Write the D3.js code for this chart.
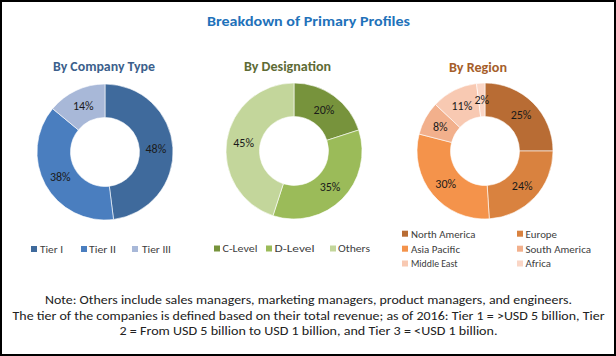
<!DOCTYPE html>
<html>
<head>
<meta charset="utf-8">
<script src="https://cdn.jsdelivr.net/npm/d3@7"></script>
<style>
  html, body { margin: 0; padding: 0; background: #fff; }
  svg { display: block; }
  text { font-family: Carlito, Calibri, Lato, "Open Sans", sans-serif; }
</style>
</head>
<body>
<svg id="chart" width="616" height="356"></svg>
<script>
// ---------- DATA ----------
const chartTitle = "Breakdown of Primary Profiles";

const companyTitle = "By Company Type";
const companyCategories = ["Tier I", "Tier II", "Tier III"];
const companyValues = [48, 38, 14];

const designationTitle = "By Designation";
const designationCategories = ["C-Level", "D-Level", "Others"];
const designationValues = [20, 35, 45];

const regionTitle = "By Region";
const regionCategories = ["North America", "Europe", "Asia Pacific", "South America", "Middle East", "Africa"];
const regionValues = [25, 24, 30, 8, 11, 2];

const noteLines = [
  "Note: Others include sales managers, marketing managers, product managers, and engineers.",
  "The tier of the companies is defined based on their total revenue; as of 2016: Tier 1 = >USD 5 billion, Tier",
  "2 = From USD 5 billion to USD 1 billion, and Tier 3 = <USD 1 billion."
];

// ---------- STYLE / LAYOUT ----------
const companyColors = ["#3F6A9C", "#4A7EBF", "#A8B8D8"];
const designationColors = ["#77933C", "#9BBB59", "#C3D69B"];
const regionColors = ["#B86C34", "#D9823F", "#F4934B", "#F2B08C", "#F8C9B2", "#FAD6C6"];

const svg = d3.select("#chart");

// frame
svg.append("rect")
  .attr("x", 1).attr("y", 1).attr("width", 614).attr("height", 354)
  .attr("fill", "#fff").attr("stroke", "#000").attr("stroke-width", 2);

// main title
svg.append("text")
  .attr("x", 308.5).attr("y", 21).attr("dy", "0.35em")
  .attr("text-anchor", "middle")
  .attr("font-size", 14).attr("font-weight", "bold")
  .attr("fill", "#1F72BA")
  .attr("textLength", 203).attr("lengthAdjust", "spacingAndGlyphs")
  .text(chartTitle);

const charts = [
  { title: companyTitle, titleColor: "#3C5F8C", tx: 104, ty: 66, tw: 102,
    cats: companyCategories, vals: companyValues, colors: companyColors,
    cx: 105, cy: 152,
    legend: { type: "row", y: 249, sq: [31, 81, 132], tx: [40, 89, 142], w: [23, 27, 29] } },
  { title: designationTitle, titleColor: "#5E6B35", tx: 287.5, ty: 66, tw: 87,
    cats: designationCategories, vals: designationValues, colors: designationColors,
    cx: 294, cy: 151,
    legend: { type: "row", y: 248.5, sq: [214, 266, 330], tx: [222.5, 274.5, 338], w: [35, 40, 32] } },
  { title: regionTitle, titleColor: "#A65E2B", tx: 478, ty: 67.5, tw: 58,
    cats: regionCategories, vals: regionValues, colors: regionColors,
    cx: 485, cy: 151,
    legend: { type: "grid", rows: [233.7, 248.7, 263.5], sq: [402, 517], tx: [411, 525.5],
              w: [64.5, 31.5, 49, 65.5, 46.5, 25.5] } }
];

const rOuter = 68, rInner = 34.5, rLabel = 51;

const pie = d3.pie().sort(null).value(d => d.v).startAngle(0).endAngle(2 * Math.PI);
const arc = d3.arc().innerRadius(rInner).outerRadius(rOuter);
const labelArc = d3.arc().innerRadius(rLabel).outerRadius(rLabel);

charts.forEach(c => {
  const data = c.cats.map((k, i) => ({ k, v: c.vals[i], color: c.colors[i] }));

  svg.append("text")
    .attr("x", c.tx).attr("y", c.ty).attr("dy", "0.35em")
    .attr("text-anchor", "middle")
    .attr("font-size", 13).attr("font-weight", "bold")
    .attr("fill", c.titleColor)
    .attr("textLength", c.tw).attr("lengthAdjust", "spacingAndGlyphs")
    .text(c.title);

  const g = svg.append("g").attr("transform", `translate(${c.cx},${c.cy})`);
  const arcs = pie(data);
  g.selectAll("path").data(arcs).enter().append("path")
    .attr("d", arc)
    .attr("fill", d => d.data.color)
    .attr("stroke", "#fff").attr("stroke-width", 0.6);

  g.selectAll("text.lbl").data(arcs).enter().append("text")
    .attr("class", "lbl")
    .attr("x", d => labelArc.centroid(d)[0])
    .attr("y", d => labelArc.centroid(d)[1])
    .attr("dy", "0.35em")
    .attr("text-anchor", "middle")
    .attr("font-size", 12)
    .attr("fill", "#1a1a1a")
    .text(d => d.data.v + "%");

  const L = c.legend;
  const lg = svg.append("g");
  data.forEach((d, i) => {
    let sx, tx, y;
    if (L.type === "row") { sx = L.sq[i]; tx = L.tx[i]; y = L.y; }
    else { const col = i % 2, row = Math.floor(i / 2); sx = L.sq[col]; tx = L.tx[col]; y = L.rows[row]; }
    lg.append("rect").attr("x", sx).attr("y", y - 3).attr("width", 6).attr("height", 6).attr("fill", d.color);
    lg.append("text").attr("x", tx).attr("y", y).attr("dy", "0.35em")
      .attr("font-size", 11).attr("fill", "#404040")
      .attr("textLength", L.w[i]).attr("lengthAdjust", "spacingAndGlyphs")
      .text(d.k);
  });
});

// notes
const noteY = [300, 315.5, 331];
const noteW = [527, 592, 378];
noteLines.forEach((t, i) => {
  svg.append("text")
    .attr("x", 308.5).attr("y", noteY[i]).attr("dy", "0.35em")
    .attr("text-anchor", "middle")
    .attr("font-size", 12.5).attr("fill", "#222")
    .attr("textLength", noteW[i]).attr("lengthAdjust", "spacingAndGlyphs")
    .text(t);
});
</script>
</body>
</html>
